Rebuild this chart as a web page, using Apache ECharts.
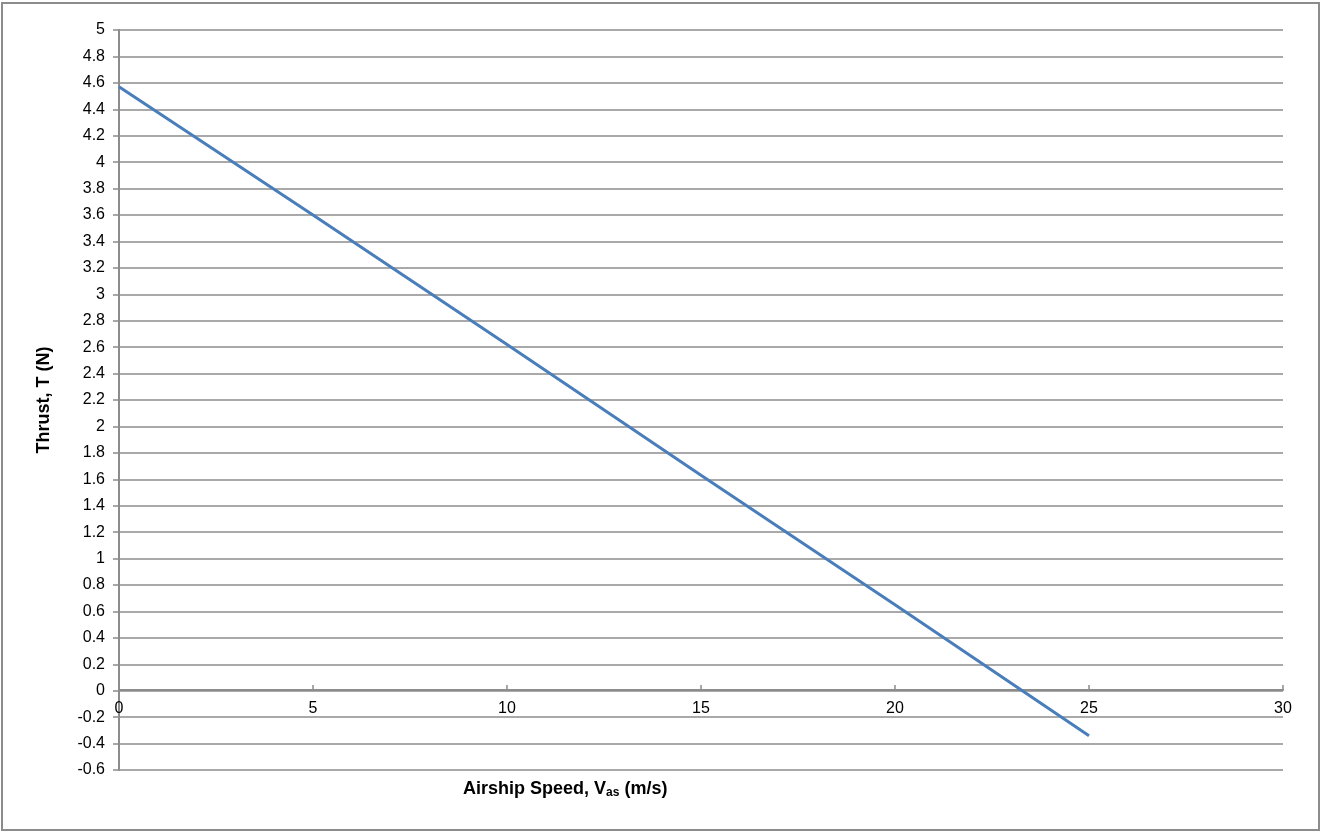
<!DOCTYPE html>
<html><head><meta charset="utf-8">
<script src="https://cdn.jsdelivr.net/npm/echarts@6/dist/echarts.min.js"></script>
<style>html,body{margin:0;padding:0;background:#fff}#c{width:1322px;height:834px}</style>
</head><body><div id="c"></div>
<script>
const speeds = [0, 5, 10, 15, 20, 25];
const thrust = [4.57, 3.60, 2.62, 1.63, 0.65, -0.34];
const chart = echarts.init(document.getElementById('c'));
const gridColor = '#8c8c8c';
chart.setOption({
  animation: false,
  grid: {left: 119, right: 39, top: 30, bottom: 64},
  graphic: [
    {type: 'rect', shape: {x: 2, y: 3, width: 1317, height: 827}, style: {fill: 'none', stroke: '#8c8c8c', lineWidth: 2}, z: -1},
    {type: 'text', left: 463, top: 780, style: {
      text: '{b|Airship Speed, V}{s|as}{b| (m/s)}',
      rich: {b: {fontFamily: 'Arial, Liberation Sans', fontWeight: 'bold', fontSize: 18, fill: '#000'},
             s: {fontFamily: 'Arial, Liberation Sans', fontWeight: 'bold', fontSize: 12, fill: '#000', verticalAlign: 'bottom', padding: [8,0,0,0]}}
    }}
  ],
  xAxis: {
    type: 'value', min: 0, max: 30, interval: 5,
    position: 'bottom', offset: -80,
    axisLine: {onZero: false, lineStyle: {color: gridColor, width: 2}},
    axisTick: {show: true, inside: true, length: 5, lineStyle: {color: gridColor, width: 1.5}},
    axisLabel: {color: '#000', fontSize: 16, fontFamily: 'Arial, Liberation Sans', margin: 11},
    splitLine: {show: false}
  },
  yAxis: {
    type: 'value', min: -0.6, max: 5, interval: 0.2,
    name: 'Thrust, T (N)', nameLocation: 'middle', nameGap: 66,
    nameTextStyle: {fontFamily: 'Arial, Liberation Sans', fontWeight: 'bold', fontSize: 18, color: '#000'},
    axisLine: {show: true, onZero: false, lineStyle: {color: gridColor, width: 2}},
    axisTick: {show: true, length: 6, lineStyle: {color: gridColor, width: 1.5}},
    axisLabel: {color: '#000', fontSize: 16, fontFamily: 'Arial, Liberation Sans', margin: 14,
      formatter: v => String(Math.round(v * 10) / 10)},
    splitLine: {show: true, lineStyle: {color: gridColor, width: 1.5}}
  },
  series: [{
    type: 'line', data: speeds.map((s, i) => [s, thrust[i]]),
    showSymbol: false, lineStyle: {color: '#4a7ebb', width: 3}
  }]
});
</script></body></html>
